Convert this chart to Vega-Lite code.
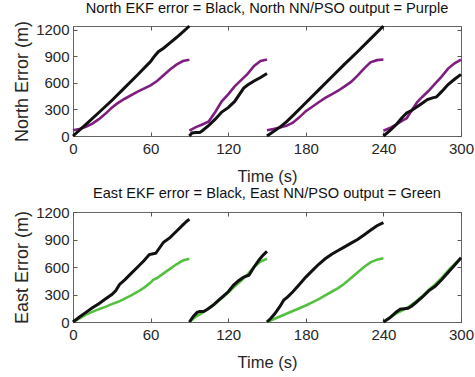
{
  "$schema": "https://vega.github.io/schema/vega-lite/v6.json",
  "padding": {"left": 13, "top": 0, "right": 2, "bottom": 0},
  "spacing": 0,
  "config": {
    "view": {"stroke": "#666666", "strokeWidth": 1},
    "font": "Liberation Sans",
    "axis": {
      "grid": false,
      "domain": false,
      "tickColor": "#555555",
      "tickSize": -4,
      "labelFontSize": 15,
      "labelColor": "#262626",
      "labelFont": "Liberation Sans",
      "labelFlush": false,
      "labelOverlap": false,
      "format": "d",
      "titleFontWeight": "normal",
      "titleColor": "#262626",
      "titleFont": "Liberation Sans"
    },
    "axisX": {"titleFontSize": 16.5},
    "axisY": {"titleFontSize": 18},
    "title": {"fontSize": 14.6, "fontWeight": "normal", "color": "#111111", "font": "Liberation Sans", "offset": 0}
  },
  "datasets": {
    "north": [
      {"t":0,"v":0,"s":"EKF","g":1},{"t":10,"v":130,"s":"EKF","g":1},{"t":20,"v":265,"s":"EKF","g":1},{"t":30,"v":400,"s":"EKF","g":1},{"t":40,"v":545,"s":"EKF","g":1},{"t":50,"v":690,"s":"EKF","g":1},{"t":58,"v":810,"s":"EKF","g":1},{"t":60,"v":840,"s":"EKF","g":1},{"t":63,"v":900,"s":"EKF","g":1},{"t":66,"v":950,"s":"EKF","g":1},{"t":70,"v":990,"s":"EKF","g":1},{"t":75,"v":1050,"s":"EKF","g":1},{"t":80,"v":1110,"s":"EKF","g":1},{"t":85,"v":1175,"s":"EKF","g":1},{"t":90,"v":1240,"s":"EKF","g":1},
      {"t":90,"v":0,"s":"EKF","g":2},{"t":92,"v":35,"s":"EKF","g":2},{"t":95,"v":40,"s":"EKF","g":2},{"t":98,"v":40,"s":"EKF","g":2},{"t":100,"v":60,"s":"EKF","g":2},{"t":105,"v":120,"s":"EKF","g":2},{"t":110,"v":190,"s":"EKF","g":2},{"t":115,"v":270,"s":"EKF","g":2},{"t":120,"v":320,"s":"EKF","g":2},{"t":125,"v":390,"s":"EKF","g":2},{"t":132,"v":540,"s":"EKF","g":2},{"t":135,"v":575,"s":"EKF","g":2},{"t":140,"v":620,"s":"EKF","g":2},{"t":145,"v":660,"s":"EKF","g":2},{"t":150,"v":705,"s":"EKF","g":2},
      {"t":150,"v":0,"s":"EKF","g":3},{"t":155,"v":50,"s":"EKF","g":3},{"t":160,"v":100,"s":"EKF","g":3},{"t":165,"v":160,"s":"EKF","g":3},{"t":170,"v":230,"s":"EKF","g":3},{"t":180,"v":375,"s":"EKF","g":3},{"t":190,"v":520,"s":"EKF","g":3},{"t":200,"v":665,"s":"EKF","g":3},{"t":210,"v":810,"s":"EKF","g":3},{"t":220,"v":950,"s":"EKF","g":3},{"t":230,"v":1095,"s":"EKF","g":3},{"t":240,"v":1240,"s":"EKF","g":3},
      {"t":240,"v":0,"s":"EKF","g":4},{"t":245,"v":60,"s":"EKF","g":4},{"t":250,"v":130,"s":"EKF","g":4},{"t":254,"v":200,"s":"EKF","g":4},{"t":258,"v":260,"s":"EKF","g":4},{"t":262,"v":290,"s":"EKF","g":4},{"t":266,"v":330,"s":"EKF","g":4},{"t":270,"v":370,"s":"EKF","g":4},{"t":274,"v":410,"s":"EKF","g":4},{"t":278,"v":430,"s":"EKF","g":4},{"t":281,"v":440,"s":"EKF","g":4},{"t":285,"v":500,"s":"EKF","g":4},{"t":290,"v":580,"s":"EKF","g":4},{"t":295,"v":640,"s":"EKF","g":4},{"t":300,"v":695,"s":"EKF","g":4},
      {"t":0,"v":65,"s":"NN","g":1},{"t":5,"v":80,"s":"NN","g":1},{"t":10,"v":105,"s":"NN","g":1},{"t":15,"v":140,"s":"NN","g":1},{"t":20,"v":190,"s":"NN","g":1},{"t":25,"v":250,"s":"NN","g":1},{"t":30,"v":320,"s":"NN","g":1},{"t":34,"v":365,"s":"NN","g":1},{"t":40,"v":420,"s":"NN","g":1},{"t":50,"v":500,"s":"NN","g":1},{"t":60,"v":570,"s":"NN","g":1},{"t":65,"v":620,"s":"NN","g":1},{"t":70,"v":685,"s":"NN","g":1},{"t":75,"v":750,"s":"NN","g":1},{"t":80,"v":805,"s":"NN","g":1},{"t":85,"v":845,"s":"NN","g":1},{"t":90,"v":860,"s":"NN","g":1},
      {"t":90,"v":60,"s":"NN","g":2},{"t":95,"v":100,"s":"NN","g":2},{"t":100,"v":130,"s":"NN","g":2},{"t":105,"v":165,"s":"NN","g":2},{"t":110,"v":270,"s":"NN","g":2},{"t":115,"v":390,"s":"NN","g":2},{"t":120,"v":470,"s":"NN","g":2},{"t":125,"v":560,"s":"NN","g":2},{"t":130,"v":630,"s":"NN","g":2},{"t":135,"v":700,"s":"NN","g":2},{"t":140,"v":790,"s":"NN","g":2},{"t":145,"v":845,"s":"NN","g":2},{"t":150,"v":862,"s":"NN","g":2},
      {"t":150,"v":65,"s":"NN","g":3},{"t":155,"v":80,"s":"NN","g":3},{"t":160,"v":95,"s":"NN","g":3},{"t":165,"v":115,"s":"NN","g":3},{"t":170,"v":150,"s":"NN","g":3},{"t":175,"v":210,"s":"NN","g":3},{"t":180,"v":280,"s":"NN","g":3},{"t":185,"v":330,"s":"NN","g":3},{"t":190,"v":380,"s":"NN","g":3},{"t":195,"v":430,"s":"NN","g":3},{"t":200,"v":470,"s":"NN","g":3},{"t":205,"v":510,"s":"NN","g":3},{"t":210,"v":560,"s":"NN","g":3},{"t":215,"v":610,"s":"NN","g":3},{"t":220,"v":680,"s":"NN","g":3},{"t":225,"v":760,"s":"NN","g":3},{"t":230,"v":830,"s":"NN","g":3},{"t":235,"v":855,"s":"NN","g":3},{"t":240,"v":862,"s":"NN","g":3},
      {"t":240,"v":60,"s":"NN","g":4},{"t":245,"v":90,"s":"NN","g":4},{"t":250,"v":130,"s":"NN","g":4},{"t":255,"v":175,"s":"NN","g":4},{"t":258,"v":200,"s":"NN","g":4},{"t":262,"v":290,"s":"NN","g":4},{"t":266,"v":380,"s":"NN","g":4},{"t":270,"v":440,"s":"NN","g":4},{"t":275,"v":510,"s":"NN","g":4},{"t":280,"v":590,"s":"NN","g":4},{"t":285,"v":670,"s":"NN","g":4},{"t":290,"v":760,"s":"NN","g":4},{"t":295,"v":820,"s":"NN","g":4},{"t":300,"v":860,"s":"NN","g":4}
    ],
    "east": [
      {"t":0,"v":0,"s":"EKF","g":1},{"t":5,"v":55,"s":"EKF","g":1},{"t":10,"v":105,"s":"EKF","g":1},{"t":15,"v":155,"s":"EKF","g":1},{"t":20,"v":200,"s":"EKF","g":1},{"t":25,"v":250,"s":"EKF","g":1},{"t":30,"v":300,"s":"EKF","g":1},{"t":33,"v":340,"s":"EKF","g":1},{"t":36,"v":410,"s":"EKF","g":1},{"t":40,"v":460,"s":"EKF","g":1},{"t":45,"v":530,"s":"EKF","g":1},{"t":50,"v":600,"s":"EKF","g":1},{"t":55,"v":670,"s":"EKF","g":1},{"t":59,"v":735,"s":"EKF","g":1},{"t":62,"v":745,"s":"EKF","g":1},{"t":64,"v":750,"s":"EKF","g":1},{"t":67,"v":810,"s":"EKF","g":1},{"t":70,"v":870,"s":"EKF","g":1},{"t":75,"v":920,"s":"EKF","g":1},{"t":80,"v":990,"s":"EKF","g":1},{"t":85,"v":1060,"s":"EKF","g":1},{"t":88,"v":1100,"s":"EKF","g":1},{"t":90,"v":1120,"s":"EKF","g":1},
      {"t":90,"v":0,"s":"EKF","g":2},{"t":93,"v":60,"s":"EKF","g":2},{"t":96,"v":105,"s":"EKF","g":2},{"t":98,"v":115,"s":"EKF","g":2},{"t":101,"v":115,"s":"EKF","g":2},{"t":104,"v":140,"s":"EKF","g":2},{"t":108,"v":180,"s":"EKF","g":2},{"t":112,"v":230,"s":"EKF","g":2},{"t":116,"v":280,"s":"EKF","g":2},{"t":120,"v":330,"s":"EKF","g":2},{"t":124,"v":400,"s":"EKF","g":2},{"t":128,"v":450,"s":"EKF","g":2},{"t":132,"v":490,"s":"EKF","g":2},{"t":136,"v":510,"s":"EKF","g":2},{"t":140,"v":600,"s":"EKF","g":2},{"t":144,"v":680,"s":"EKF","g":2},{"t":147,"v":730,"s":"EKF","g":2},{"t":150,"v":770,"s":"EKF","g":2},
      {"t":150,"v":0,"s":"EKF","g":3},{"t":153,"v":40,"s":"EKF","g":3},{"t":156,"v":90,"s":"EKF","g":3},{"t":160,"v":170,"s":"EKF","g":3},{"t":163,"v":240,"s":"EKF","g":3},{"t":166,"v":275,"s":"EKF","g":3},{"t":170,"v":330,"s":"EKF","g":3},{"t":175,"v":410,"s":"EKF","g":3},{"t":180,"v":490,"s":"EKF","g":3},{"t":185,"v":560,"s":"EKF","g":3},{"t":190,"v":630,"s":"EKF","g":3},{"t":195,"v":690,"s":"EKF","g":3},{"t":200,"v":740,"s":"EKF","g":3},{"t":205,"v":780,"s":"EKF","g":3},{"t":210,"v":820,"s":"EKF","g":3},{"t":215,"v":860,"s":"EKF","g":3},{"t":220,"v":900,"s":"EKF","g":3},{"t":225,"v":950,"s":"EKF","g":3},{"t":230,"v":1000,"s":"EKF","g":3},{"t":235,"v":1050,"s":"EKF","g":3},{"t":240,"v":1085,"s":"EKF","g":3},
      {"t":240,"v":0,"s":"EKF","g":4},{"t":245,"v":45,"s":"EKF","g":4},{"t":250,"v":110,"s":"EKF","g":4},{"t":253,"v":140,"s":"EKF","g":4},{"t":256,"v":145,"s":"EKF","g":4},{"t":259,"v":150,"s":"EKF","g":4},{"t":262,"v":175,"s":"EKF","g":4},{"t":265,"v":210,"s":"EKF","g":4},{"t":270,"v":270,"s":"EKF","g":4},{"t":275,"v":340,"s":"EKF","g":4},{"t":280,"v":390,"s":"EKF","g":4},{"t":285,"v":460,"s":"EKF","g":4},{"t":290,"v":540,"s":"EKF","g":4},{"t":295,"v":620,"s":"EKF","g":4},{"t":300,"v":700,"s":"EKF","g":4},
      {"t":0,"v":0,"s":"NN","g":1},{"t":5,"v":40,"s":"NN","g":1},{"t":10,"v":80,"s":"NN","g":1},{"t":15,"v":110,"s":"NN","g":1},{"t":20,"v":140,"s":"NN","g":1},{"t":25,"v":165,"s":"NN","g":1},{"t":30,"v":195,"s":"NN","g":1},{"t":35,"v":220,"s":"NN","g":1},{"t":40,"v":255,"s":"NN","g":1},{"t":45,"v":290,"s":"NN","g":1},{"t":50,"v":330,"s":"NN","g":1},{"t":55,"v":375,"s":"NN","g":1},{"t":60,"v":430,"s":"NN","g":1},{"t":62,"v":460,"s":"NN","g":1},{"t":65,"v":480,"s":"NN","g":1},{"t":70,"v":530,"s":"NN","g":1},{"t":75,"v":580,"s":"NN","g":1},{"t":80,"v":630,"s":"NN","g":1},{"t":85,"v":670,"s":"NN","g":1},{"t":90,"v":690,"s":"NN","g":1},
      {"t":90,"v":0,"s":"NN","g":2},{"t":95,"v":60,"s":"NN","g":2},{"t":100,"v":100,"s":"NN","g":2},{"t":105,"v":150,"s":"NN","g":2},{"t":110,"v":200,"s":"NN","g":2},{"t":115,"v":260,"s":"NN","g":2},{"t":120,"v":320,"s":"NN","g":2},{"t":125,"v":390,"s":"NN","g":2},{"t":130,"v":450,"s":"NN","g":2},{"t":135,"v":520,"s":"NN","g":2},{"t":140,"v":600,"s":"NN","g":2},{"t":145,"v":660,"s":"NN","g":2},{"t":150,"v":690,"s":"NN","g":2},
      {"t":150,"v":0,"s":"NN","g":3},{"t":155,"v":30,"s":"NN","g":3},{"t":160,"v":60,"s":"NN","g":3},{"t":165,"v":90,"s":"NN","g":3},{"t":170,"v":120,"s":"NN","g":3},{"t":175,"v":150,"s":"NN","g":3},{"t":180,"v":180,"s":"NN","g":3},{"t":185,"v":215,"s":"NN","g":3},{"t":190,"v":250,"s":"NN","g":3},{"t":195,"v":290,"s":"NN","g":3},{"t":200,"v":330,"s":"NN","g":3},{"t":205,"v":370,"s":"NN","g":3},{"t":210,"v":420,"s":"NN","g":3},{"t":215,"v":480,"s":"NN","g":3},{"t":220,"v":540,"s":"NN","g":3},{"t":225,"v":600,"s":"NN","g":3},{"t":230,"v":650,"s":"NN","g":3},{"t":235,"v":680,"s":"NN","g":3},{"t":240,"v":695,"s":"NN","g":3},
      {"t":240,"v":0,"s":"NN","g":4},{"t":245,"v":50,"s":"NN","g":4},{"t":250,"v":95,"s":"NN","g":4},{"t":255,"v":130,"s":"NN","g":4},{"t":260,"v":170,"s":"NN","g":4},{"t":265,"v":220,"s":"NN","g":4},{"t":270,"v":280,"s":"NN","g":4},{"t":275,"v":350,"s":"NN","g":4},{"t":280,"v":410,"s":"NN","g":4},{"t":285,"v":480,"s":"NN","g":4},{"t":290,"v":560,"s":"NN","g":4},{"t":295,"v":630,"s":"NN","g":4},{"t":300,"v":695,"s":"NN","g":4}
    ]
  },
  "vconcat": [
    {
      "title": {"text": "North EKF error = Black, North NN/PSO output = Purple"},
      "width": 388,
      "height": 110,
      "data": {"name": "north"},
      "layer": [
        {
          "transform": [{"filter": "datum.s == 'NN'"}],
          "mark": {"type": "line", "color": "#7E1E80", "strokeWidth": 2.6},
          "encoding": {
            "x": {"field": "t", "type": "quantitative", "scale": {"domain": [0, 300], "nice": false}, "axis": {"values": [0, 60, 120, 180, 240, 300], "title": "Time (s)", "labelPadding": 9, "titlePadding": 12}},
            "y": {"field": "v", "type": "quantitative", "scale": {"domain": [0, 1240], "nice": false}, "axis": {"values": [0, 300, 600, 900, 1200], "title": "North Error (m)", "labelPadding": 8, "titlePadding": 4}},
            "detail": {"field": "g"}
          }
        },
        {
          "transform": [{"filter": "datum.s == 'EKF'"}],
          "mark": {"type": "line", "color": "#111111", "strokeWidth": 3},
          "encoding": {
            "x": {"field": "t", "type": "quantitative", "scale": {"domain": [0, 300], "nice": false}, "axis": {"orient": "top", "values": [0, 60, 120, 180, 240, 300], "labels": false, "title": null}},
            "y": {"field": "v", "type": "quantitative", "scale": {"domain": [0, 1240], "nice": false}, "axis": {"orient": "right", "values": [0, 300, 600, 900, 1200], "labels": false, "title": null}},
            "detail": {"field": "g"}
          }
        }
      ],
      "resolve": {"axis": {"x": "independent", "y": "independent"}}
    },
    {
      "title": {"text": "East EKF error = Black, East NN/PSO output = Green"},
      "width": 388,
      "height": 110,
      "data": {"name": "east"},
      "layer": [
        {
          "transform": [{"filter": "datum.s == 'NN'"}],
          "mark": {"type": "line", "color": "#55C040", "strokeWidth": 2.6},
          "encoding": {
            "x": {"field": "t", "type": "quantitative", "scale": {"domain": [0, 300], "nice": false}, "axis": {"values": [0, 60, 120, 180, 240, 300], "title": "Time (s)", "labelPadding": 9, "titlePadding": 12}},
            "y": {"field": "v", "type": "quantitative", "scale": {"domain": [0, 1200], "nice": false}, "axis": {"values": [0, 300, 600, 900, 1200], "title": "East Error (m)", "labelPadding": 8, "titlePadding": 4}},
            "detail": {"field": "g"}
          }
        },
        {
          "transform": [{"filter": "datum.s == 'EKF'"}],
          "mark": {"type": "line", "color": "#111111", "strokeWidth": 3},
          "encoding": {
            "x": {"field": "t", "type": "quantitative", "scale": {"domain": [0, 300], "nice": false}, "axis": {"orient": "top", "values": [0, 60, 120, 180, 240, 300], "labels": false, "title": null}},
            "y": {"field": "v", "type": "quantitative", "scale": {"domain": [0, 1200], "nice": false}, "axis": {"orient": "right", "values": [0, 300, 600, 900, 1200], "labels": false, "title": null}},
            "detail": {"field": "g"}
          }
        }
      ],
      "resolve": {"axis": {"x": "independent", "y": "independent"}}
    }
  ]
}
